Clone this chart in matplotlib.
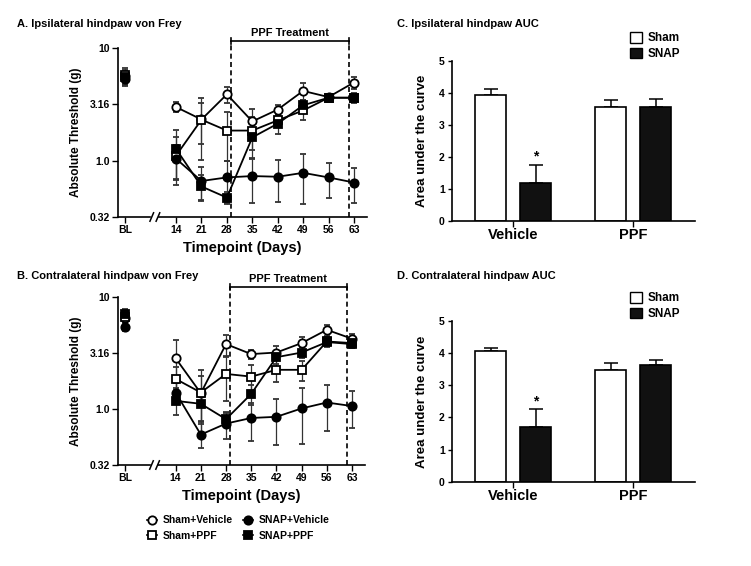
import numpy as np
import matplotlib
matplotlib.use('Agg')
import matplotlib.pyplot as plt
from matplotlib.lines import Line2D
from matplotlib.patches import Patch

plt.rcParams['font.family'] = ['Liberation Sans', 'DejaVu Sans']
plt.rcParams['font.weight'] = 'bold'

# time course data (von Frey thresholds, g)
days = [0, 14, 21, 28, 35, 42, 49, 56, 63]
day_labels = ['BL', '14', '21', '28', '35', '42', '49', '56', '63']

ipsi_sham_veh = [5.6, 2.99, 2.32, 3.88, 2.23, 2.84, 4.16, 3.67, 4.94]
ipsi_sham_veh_err = [0.8, 0.3, 0.9, 0.6, 0.65, 0.26, 0.7, 0.27, 0.6]
ipsi_sham_ppf = [5.8, 1.11, 2.31, 1.85, 1.85, 2.28, 2.79, 3.62, 3.62]
ipsi_sham_ppf_err = [0.8, 0.5, 1.3, 0.85, 0.6, 0.25, 0.5, 0.3, 0.4]
ipsi_snap_veh = [5.3, 1.04, 0.66, 0.71, 0.73, 0.72, 0.78, 0.71, 0.64]
ipsi_snap_veh_err = [0.7, 0.35, 0.21, 0.29, 0.31, 0.29, 0.37, 0.24, 0.22]
ipsi_snap_ppf = [5.5, 1.27, 0.59, 0.47, 1.61, 2.13, 3.10, 3.62, 3.62]
ipsi_snap_ppf_err = [0.8, 0.6, 0.15, 0.06, 0.55, 0.4, 0.35, 0.3, 0.3]

contra_sham_veh = [6.5, 2.83, 1.38, 3.78, 3.08, 3.18, 3.86, 5.07, 4.22]
contra_sham_veh_err = [0.7, 1.3, 0.6, 0.8, 0.28, 0.42, 0.5, 0.56, 0.4]
contra_sham_ppf = [6.6, 1.85, 1.40, 2.05, 1.94, 2.23, 2.23, 3.99, 3.86]
contra_sham_ppf_err = [0.7, 0.5, 0.83, 0.88, 0.53, 0.5, 0.45, 0.4, 0.4]
contra_snap_veh = [5.4, 1.40, 0.59, 0.74, 0.83, 0.85, 1.01, 1.14, 1.06]
contra_snap_veh_err = [0.5, 0.3, 0.14, 0.2, 0.31, 0.37, 0.52, 0.5, 0.39]
contra_snap_ppf = [7.0, 1.18, 1.11, 0.81, 1.36, 2.89, 3.18, 3.94, 3.78]
contra_snap_ppf_err = [0.7, 0.3, 0.35, 0.1, 0.28, 0.4, 0.35, 0.3, 0.3]

# AUC data
groups = ['Vehicle', 'PPF']
ipsi_auc_sham = [3.94, 3.58]
ipsi_auc_sham_err = [0.18, 0.19]
ipsi_auc_snap = [1.21, 3.56]
ipsi_auc_snap_err = [0.56, 0.26]
contra_auc_sham = [4.07, 3.46]
contra_auc_sham_err = [0.08, 0.24]
contra_auc_snap = [1.70, 3.63]
contra_auc_snap_err = [0.55, 0.17]

W, H = 751, 566
fig = plt.figure(figsize=(W / 100, H / 100), dpi=100)
fig.patch.set_facecolor('white')


def px_axes(left, top, right, bottom):
    return fig.add_axes([left / W, 1 - bottom / H, (right - left) / W, (bottom - top) / H])


series_style = [
    ('Sham+Vehicle', 'o', 'white'),
    ('Sham+PPF', 's', 'white'),
    ('SNAP+Vehicle', 'o', 'black'),
    ('SNAP+PPF', 's', 'black'),
]


def time_panel(ax, data, bracket_px, title, title_y):
    for (name, mk, fc), (vals, errs) in zip(series_style, data):
        vals = np.array(vals)
        errs = np.array(errs)
        # baseline point (no connecting line)
        ax.errorbar(days[:1], vals[:1], yerr=errs[:1], fmt=mk, mfc=fc, mec='black',
                    ms=6, mew=1.3, ecolor='#333333', elinewidth=0.9, capsize=2.5,
                    color='black', zorder=3)
        ax.errorbar(days[1:], vals[1:], yerr=errs[1:], fmt='-' + mk, mfc=fc, mec='black',
                    ms=6, mew=1.3, ecolor='#333333', elinewidth=0.9, capsize=2.5,
                    color='black', lw=1.3, zorder=3)
    ax.set_yscale('log')
    ax.set_ylim(10 ** -0.5, 10)
    ax.set_xlim(-2, 66.6)
    ax.set_yticks([10 ** -0.5, 1, 10 ** 0.5, 10])
    ax.set_yticklabels(['0.32', '1.0', '3.16', '10'])
    ax.yaxis.set_minor_locator(matplotlib.ticker.NullLocator())
    ax.set_xticks(days)
    ax.set_xticklabels(day_labels)
    ax.tick_params(direction='out', length=4, width=1, labelsize=7.5, pad=2)
    for s in ['top', 'right', 'bottom']:
        ax.spines[s].set_visible(False)
    ax.spines['left'].set_linewidth(1.2)
    # broken x axis
    tr = ax.get_xaxis_transform()
    ax.plot([-2, 6.8], [0, 0], color='black', lw=1.2, transform=tr, clip_on=False)
    ax.plot([9.2, 66.6], [0, 0], color='black', lw=1.2, transform=tr, clip_on=False)
    for xb in [7.3, 9.0]:
        ax.plot([xb - 0.5, xb + 0.5], [-0.025, 0.025], color='black', lw=1.1,
                transform=tr, clip_on=False)
    # PPF treatment bracket
    bb = ax.get_position()
    top_px = (1 - bb.y1) * H
    bot_px = (1 - bb.y0) * H
    ybr = (bot_px - bracket_px) / (bot_px - top_px)
    x1, x2 = 29.1, 61.6
    for xv in [x1, x2]:
        ax.plot([xv, xv], [0, ybr], ls=(0, (3, 2)), color='black', lw=1.2,
                transform=tr, clip_on=False)
        ax.plot([xv, xv], [ybr - 0.02, ybr + 0.02], color='black', lw=1.2,
                transform=tr, clip_on=False)
    ax.plot([x1, x2], [ybr, ybr], color='black', lw=1.2, transform=tr, clip_on=False)
    ax.text((x1 + x2) / 2, ybr + 0.015, 'PPF Treatment', transform=tr, ha='center',
            va='bottom', fontsize=8, fontweight='bold')
    ax.set_ylabel('Absolute Threshold (g)', fontsize=8.5, fontweight='bold', labelpad=5)
    ax.set_xlabel('Timepoint (Days)', fontsize=10.5, fontweight='bold', labelpad=4)
    fig.text(17 / W, 1 - title_y / H, title, fontsize=8, fontweight='bold',
             ha='left', va='center')


axA = px_axes(118, 48, 367, 217)
time_panel(axA, [(ipsi_sham_veh, ipsi_sham_veh_err), (ipsi_sham_ppf, ipsi_sham_ppf_err),
                 (ipsi_snap_veh, ipsi_snap_veh_err), (ipsi_snap_ppf, ipsi_snap_ppf_err)],
           41, 'A. Ipsilateral hindpaw von Frey', 24)

axB = px_axes(118, 296.7, 365, 465)
time_panel(axB, [(contra_sham_veh, contra_sham_veh_err), (contra_sham_ppf, contra_sham_ppf_err),
                 (contra_snap_veh, contra_snap_veh_err), (contra_snap_ppf, contra_snap_ppf_err)],
           287, 'B. Contralateral hindpaw von Frey', 275.7)


def auc_panel(ax, sham, sham_err, snap, snap_err, title, title_y):
    x = np.arange(len(groups))
    off, w = 0.1875, 0.256
    ax.bar(x - off, sham, w, color='white', edgecolor='black', lw=1.2, zorder=2)
    ax.bar(x + off, snap, w, color='#111111', edgecolor='black', lw=1.2, zorder=2)
    ax.errorbar(x - off, sham, yerr=[np.zeros(2), sham_err], fmt='none', ecolor='black',
                elinewidth=1.1, capsize=5, capthick=1.1, zorder=1)
    ax.errorbar(x + off, snap, yerr=[np.zeros(2), snap_err], fmt='none', ecolor='black',
                elinewidth=1.1, capsize=5, capthick=1.1, zorder=1)
    ax.text(x[0] + off, snap[0] + snap_err[0] + 0.02, '*', ha='center', va='bottom',
            fontsize=10, fontweight='bold')
    ax.set_xlim(-0.513, 1.514)
    ax.set_ylim(0, 5)
    ax.set_yticks([0, 1, 2, 3, 4, 5])
    ax.set_xticks(x)
    ax.set_xticklabels(groups, fontsize=10.5, fontweight='bold')
    ax.tick_params(axis='y', direction='out', length=3, width=1, labelsize=7.5, pad=2)
    ax.tick_params(axis='x', direction='out', length=4, width=1, pad=1)
    for s in ['top', 'right']:
        ax.spines[s].set_visible(False)
    for s in ['left', 'bottom']:
        ax.spines[s].set_linewidth(1.2)
    ax.set_ylabel('Area under the curve', fontsize=9.5, fontweight='bold', labelpad=8)
    handles = [Patch(facecolor='white', edgecolor='black', lw=1.0, label='Sham'),
               Patch(facecolor='#111111', edgecolor='black', lw=1.0, label='SNAP')]
    ax.legend(handles=handles, loc='upper left', bbox_to_anchor=(0.715, 1.21),
              frameon=False, fontsize=8.5, handlelength=1.0, handleheight=1.0,
              handletextpad=0.5, labelspacing=0.3, borderaxespad=0)
    fig.text(397 / W, 1 - title_y / H, title, fontsize=8, fontweight='bold',
             ha='left', va='center')


axC = px_axes(451.7, 61, 695, 221.3)
auc_panel(axC, ipsi_auc_sham, ipsi_auc_sham_err, ipsi_auc_snap, ipsi_auc_snap_err,
          'C. Ipsilateral hindpaw AUC', 24)

axD = px_axes(451.7, 321, 695, 481.7)
auc_panel(axD, contra_auc_sham, contra_auc_sham_err, contra_auc_snap, contra_auc_snap_err,
          'D. Contralateral hindpaw AUC', 276)

# shared legend for time-course panels
leg_handles = [Line2D([], [], color='black', lw=1.2, marker=mk, mfc=fc, mec='black',
                      ms=6, mew=1.3, label=name) for name, mk, fc in series_style]
fig.legend(handles=leg_handles, ncol=2, loc='center', bbox_to_anchor=(238 / W, 1 - 528 / H),
           frameon=False, fontsize=7.5, handlelength=1.0, handletextpad=0.5,
           columnspacing=1.0, labelspacing=0.5)

fig.savefig('out.png', dpi=100, facecolor='white')
